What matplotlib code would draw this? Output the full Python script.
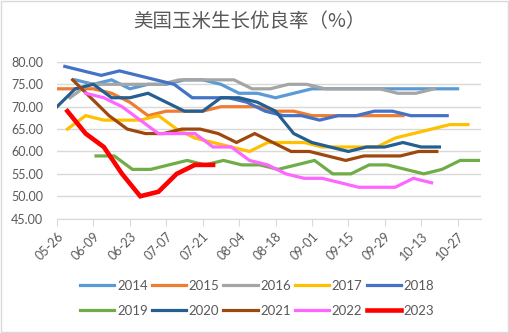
import matplotlib
matplotlib.use('Agg')
import matplotlib.pyplot as plt
import matplotlib.dates as mdates
import pandas as pd
from matplotlib.patches import Rectangle

plt.rcParams['font.family'] = ['Lato', 'Noto Sans CJK SC', 'DejaVu Sans']

# weekly good/excellent ratings, first report date of each season
years = ['2014', '2015', '2016', '2017', '2018', '2019', '2020', '2021', '2022', '2023']
first_report = ['06-02', '05-26', '05-31', '05-30', '05-29', '06-10', '05-26', '06-01', '06-06', '05-30']

r2014 = [76, 75, 76, 74, 75, 75, 76, 76, 75, 73, 73, 72, 73, 74, 74, 74, 74, 74, 74, 74, 74, 74]
r2015 = [74, 74, 74, 73, 71, 68, 69, 69, 69, 70, 70, 70, 69, 69, 68, 68, 68, 68, 68, 68]
r2016 = [72, 75, 75, 75, 75, 75, 76, 76, 76, 76, 74, 74, 75, 75, 74, 74, 74, 74, 73, 73, 74]
r2017 = [65, 68, 67, 67, 67, 68, 65, 63, 62, 61, 60, 62, 62, 62, 61, 61, 61, 61, 63, 64, 65, 66, 66]
r2018 = [79, 78, 77, 78, 77, 76, 75, 72, 72, 72, 71, 69, 68, 68, 67, 68, 68, 69, 69, 68, 68, 68]
r2019 = [59, 59, 56, 56, 57, 58, 57, 58, 57, 57, 56, 57, 58, 55, 55, 57, 57, 56, 55, 56, 58, 58]
r2020 = [70, 74, 75, 72, 72, 73, 71, 69, 69, 72, 72, 71, 69, 64, 62, 61, 60, 61, 61, 62, 61, 61]
r2021 = [76, 72, 68, 65, 64, 64, 65, 65, 64, 62, 64, 62, 60, 60, 59, 58, 59, 59, 59, 60, 60]
r2022 = [73, 72, 70, 67, 64, 64, 64, 61, 61, 58, 57, 55, 54, 54, 53, 52, 52, 52, 54, 53]
r2023 = [69, 64, 61, 55, 50, 51, 55, 57, 57]

ratings = [r2014, r2015, r2016, r2017, r2018, r2019, r2020, r2021, r2022, r2023]
colors = ['#5B9BD5', '#ED7D31', '#A5A5A5', '#FFC000', '#4472C4',
          '#70AD47', '#255E91', '#9E480E', '#FF66FF', '#FF0000']

tick_labels = ['05-26', '06-09', '06-23', '07-07', '07-21', '08-04', '08-18',
               '09-01', '09-15', '09-29', '10-13', '10-27']
yticks = [45, 50, 55, 60, 65, 70, 75, 80]

fig = plt.figure(figsize=(5.09, 3.33), dpi=100)
ax = fig.add_axes([0.112, 0.3435, 0.833, 0.4705])

lines = []
for yr, start, vals, c in zip(years, first_report, ratings, colors):
    dates = pd.date_range('2023-' + start, periods=len(vals), freq='7D')
    lw = 3.3 if yr == '2023' else 2.3
    ln, = ax.plot(dates, vals, color=c, lw=lw, label=yr, solid_joinstyle='miter')
    lines.append(ln)

ax.set_ylim(45, 80)
ax.set_yticks(yticks)
ax.set_yticklabels(['%.2f' % v for v in yticks])
ax.set_xlim(pd.Timestamp('2023-05-26'), pd.Timestamp('2023-11-05'))
ax.set_xticks([pd.Timestamp('2023-' + t) for t in tick_labels])
ax.xaxis.set_major_formatter(mdates.DateFormatter('%m-%d'))
plt.setp(ax.get_xticklabels(), rotation=45, ha='right', rotation_mode='anchor')

ax.grid(axis='y', color='#D9D9D9', lw=1)
ax.set_axisbelow(True)
for s in ['left', 'right', 'top']:
    ax.spines[s].set_visible(False)
ax.spines['bottom'].set_color('#D9D9D9')
ax.tick_params(axis='y', length=0, pad=10, labelsize=9, labelcolor='#595959')
ax.tick_params(axis='x', length=5, color='#D9D9D9', pad=3, labelsize=9, labelcolor='#595959')

fig.text(0.489, 0.934, '美国玉米生长优良率（%）', ha='center', va='center',
         fontsize=14, color='#595959', family=['Noto Sans CJK SC', 'DejaVu Sans'])

# legend fills by column, so interleave to get 2014-2018 on the first row
order = [0, 5, 1, 6, 2, 7, 3, 8, 4, 9]
fig.legend([lines[i] for i in order], [years[i] for i in order],
           loc='center', bbox_to_anchor=(0.505, 0.104), ncol=5, frameon=False,
           fontsize=9.5, handlelength=2.6, handletextpad=0.2, columnspacing=0.3,
           labelspacing=1.0, labelcolor='#595959')

fig.patches.append(Rectangle((0.002, 0.002), 0.996, 0.996, transform=fig.transFigure,
                             fill=False, edgecolor='#D9D9D9', lw=1))

fig.savefig('out.png', dpi=100)
